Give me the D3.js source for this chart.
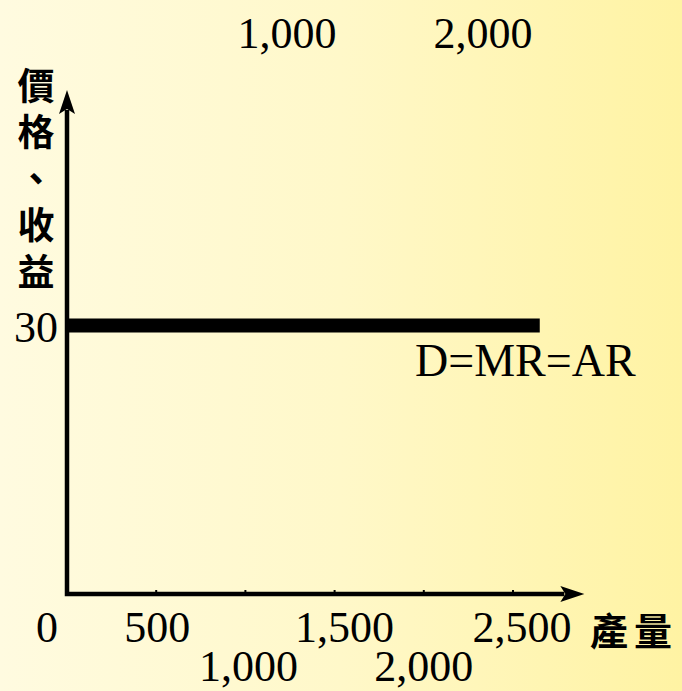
<!DOCTYPE html>
<html><head><meta charset="utf-8">
<script src="https://cdn.jsdelivr.net/npm/d3@7"></script>
<style>html,body{margin:0;padding:0;overflow:hidden;}svg{display:block;}</style>
</head><body>
<script>
// ---- data ----
const xTicks = [0, 500, 1000, 1500, 2000, 2500];
const xTickLabels = ["0", "500", "1,000", "1,500", "2,000", "2,500"];
const xTickRow = [0, 0, 1, 0, 1, 0];          // which label row each tick uses
const topLabels = ["1,000", "2,000"];
const priceLevel = 30;
const demandStart = 0;
const demandEnd = 2650;
const demandLabel = "D=MR=AR";
const yTitle = ["價", "格", "、", "收", "益"];
const xTitle = "產量";

const W = 682, H = 691;
const svg = d3.select("body").append("svg").attr("width", W).attr("height", H);
const defs = svg.append("defs");
const grad = defs.append("linearGradient").attr("id", "bg").attr("x1", "0").attr("x2", "1").attr("y1", "0").attr("y2", "0");
grad.append("stop").attr("offset", "0").attr("stop-color", "#fffbe0");
grad.append("stop").attr("offset", "0.5").attr("stop-color", "#fff8c9");
grad.append("stop").attr("offset", "1").attr("stop-color", "#fff3a3");
svg.append("rect").attr("width", W).attr("height", H).attr("fill", "url(#bg)");

const x = d3.scaleLinear().domain([0, 2500]).range([67, 513]);
const y = d3.scaleLinear().domain([0, 30]).range([594, 325.5]);

const serif = "'Liberation Serif','Times New Roman',serif";
const cjk = "'Noto Sans CJK TC','Noto Sans CJK SC',sans-serif";

// axes lines with arrowheads
const xEnd = x(2900), yTop = y(56.3);
svg.append("path")
  .attr("d", `M${x(0)},${yTop + 20} L${x(0)},${y(0)} L${xEnd - 20},${y(0)}`)
  .attr("fill", "none").attr("stroke", "#000").attr("stroke-width", 4.5).attr("stroke-linejoin", "miter");
// y arrowhead
svg.append("path")
  .attr("d", `M${x(0)},${yTop} L${x(0) + 8},${yTop + 24} L${x(0)},${yTop + 19} L${x(0) - 8},${yTop + 24} Z`)
  .attr("fill", "#000");
// x arrowhead
svg.append("path")
  .attr("d", `M${xEnd},${y(0)} L${xEnd - 24},${y(0) - 8} L${xEnd - 19},${y(0)} L${xEnd - 24},${y(0) + 8} Z`)
  .attr("fill", "#000");

// tick marks
svg.selectAll("line.tick").data(xTicks.slice(1)).enter().append("line")
  .attr("x1", d => x(d)).attr("x2", d => x(d))
  .attr("y1", y(0) - 4).attr("y2", y(0))
  .attr("stroke", "#000").attr("stroke-width", 2);

// tick labels
const labelDx = [-20, 1, 3, 10, 0, 9];
svg.selectAll("text.xl").data(xTicks).enter().append("text")
  .attr("x", (d, i) => x(d) + labelDx[i])
  .attr("y", (d, i) => xTickRow[i] === 0 ? 642 : 681)
  .attr("text-anchor", "middle")
  .attr("font-family", serif).attr("font-size", 44)
  .text((d, i) => xTickLabels[i]);

// stray top labels
const topX = [287, 483];
svg.selectAll("text.tl").data(topLabels).enter().append("text")
  .attr("x", (d, i) => topX[i]).attr("y", 48)
  .attr("text-anchor", "middle")
  .attr("font-family", serif).attr("font-size", 44)
  .text(d => d);

// x title
svg.append("text").attr("x", 634).attr("y", 645).attr("text-anchor", "middle")
  .attr("font-family", cjk).attr("font-size", 38).attr("font-weight", 700)
  .attr("letter-spacing", 6)
  .text(xTitle);

// y title: single vertical text
svg.append("text")
  .attr("x", 36).attr("y", 67)
  .attr("writing-mode", "vertical-rl")
  .style("writing-mode", "vertical-rl")
  .attr("font-family", cjk).attr("font-size", 37).attr("font-weight", 700)
  .attr("letter-spacing", 9.5)
  .text(yTitle.join(""));

// y tick label 30
svg.append("text").attr("x", 58).attr("y", y(priceLevel) + 16)
  .attr("text-anchor", "end")
  .attr("font-family", serif).attr("font-size", 44)
  .text(String(priceLevel));

// demand line
svg.append("line")
  .attr("x1", x(demandStart)).attr("x2", x(demandEnd))
  .attr("y1", y(priceLevel)).attr("y2", y(priceLevel))
  .attr("stroke", "#000").attr("stroke-width", 14);

svg.append("text").attr("x", 415).attr("y", 376)
  .attr("font-family", serif).attr("font-size", 46)
  .text(demandLabel);
</script>
</body></html>
